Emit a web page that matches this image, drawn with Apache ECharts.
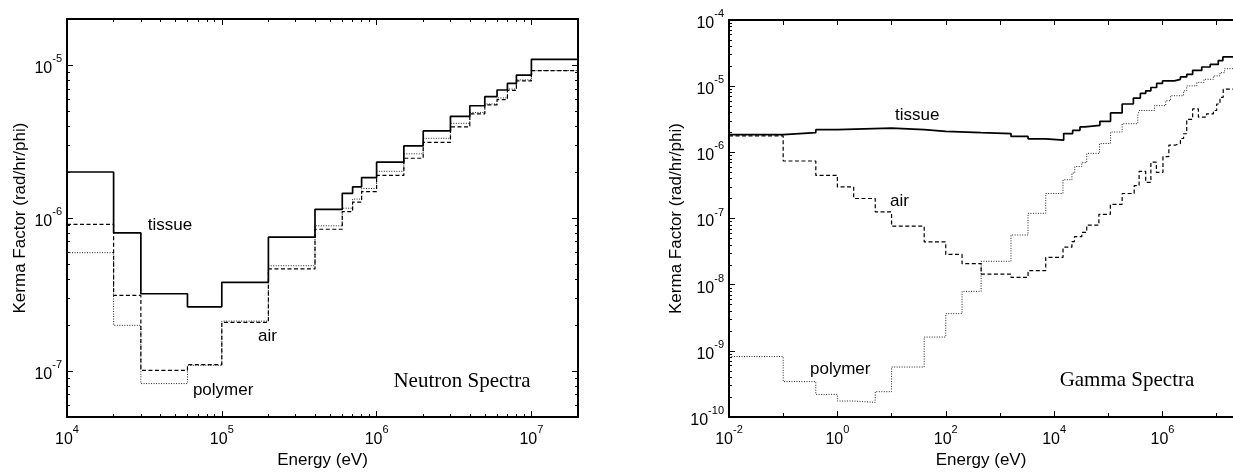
<!DOCTYPE html>
<html><head><meta charset="utf-8">
<script src="https://cdn.jsdelivr.net/npm/echarts@6/dist/echarts.min.js"></script>
<style>html,body{margin:0;padding:0;background:#fff}#c{width:1233px;height:474px}</style>
</head><body><div id="c"></div>
<script>
// ---------- DATA (energy in eV, kerma in rad/hr/phi) ----------
// Neutron spectra: group edges and per-group values
const neutronEdges = [1e4, 2e4, 3e4, 6e4, 1e5, 2e5, 4e5, 6e5, 7e5, 8e5, 1e6, 1.5e6, 2e6, 3e6, 4e6, 5e6, 6e6, 7e6, 8e6, 1e7, 2e7];
const neutronTissue = [2.0e-6, 8.0e-7, 3.2e-7, 2.63e-7, 3.8e-7, 7.5e-7, 1.14e-6, 1.45e-6, 1.6e-6, 1.84e-6, 2.32e-6, 2.96e-6, 3.71e-6, 4.62e-6, 5.42e-6, 6.22e-6, 6.87e-6, 7.58e-6, 8.6e-6, 1.09e-5];
const neutronAir = [9.1e-7, 3.12e-7, 1.01e-7, 1.1e-7, 2.08e-7, 4.65e-7, 8.45e-7, 1.1e-6, 1.27e-6, 1.49e-6, 1.9e-6, 2.46e-6, 3.12e-6, 3.94e-6, 4.8e-6, 5.5e-6, 5.94e-6, 6.83e-6, 7.88e-6, 9.2e-6];
const neutronPolymer = [5.94e-7, 1.99e-7, 8.28e-8, 1.09e-7, 2.12e-7, 4.88e-7, 8.9e-7, 1.16e-6, 1.33e-6, 1.56e-6, 2.02e-6, 2.63e-6, 3.32e-6, 4.16e-6, 4.9e-6, 5.57e-6, 6.1e-6, 6.97e-6, 8.0e-6, 9.2e-6];

// Gamma spectra
const gammaTissueEdges = [0.01, 0.1, 0.4, 1, 10, 40, 100, 450, 1600, 3300, 7000, 1.5e4, 2.2e4, 3e4, 3.7e4, 7e4, 1.1e5, 1.8e5, 2.9e5, 3.9e5, 4.9e5, 6.1e5, 7.8e5, 1e6, 1.66e6, 2.14e6, 2.8e6, 3.6e6, 5.3e6, 7.6e6, 1.07e7, 1.3e7, 2e7];
const gammaTissue = [1.86e-6, 1.99e-6, 2.2e-6, 2.33e-6, 2.2e-6, 2.08e-6, 1.99e-6, 1.92e-6, 1.74e-6, 1.6e-6, 1.53e-6, 1.92e-6, 2.15e-6, 2.42e-6, 2.56e-6, 2.94e-6, 3.95e-6, 5.38e-6, 6.61e-6, 7.78e-6, 8.51e-6, 9.55e-6, 1.1e-5, 1.2e-5, 1.27e-5, 1.38e-5, 1.51e-5, 1.73e-5, 1.95e-5, 2.13e-5, 2.44e-5, 2.77e-5];

const gammaAirEdges = [0.01, 0.1, 0.4, 1, 2, 5, 10, 40, 100, 200, 450, 1600, 3300, 7000, 1.46e4, 2.13e4, 2.37e4, 3.24e4, 4e4, 6.7e4, 1.09e5, 1.8e5, 3e5, 3.7e5, 4.9e5, 6.1e5, 7.7e5, 1.02e6, 1.31e6, 1.74e6, 2.14e6, 2.45e6, 2.8e6, 3.6e6, 4.6e6, 6.5e6, 8.7e6, 1e7, 1.15e7, 1.32e7, 2e7];
const gammaAir = [1.77e-6, 7.41e-7, 4.49e-7, 3.01e-7, 2.01e-7, 1.26e-7, 7.67e-8, 4.43e-8, 2.87e-8, 2.08e-8, 1.45e-8, 1.29e-8, 1.63e-8, 2.59e-8, 3.69e-8, 4.49e-8, 5.33e-8, 6.18e-8, 7.94e-8, 1.16e-7, 1.64e-7, 2.39e-7, 3.14e-7, 5.15e-7, 3.53e-7, 7.1e-7, 4.98e-7, 8.63e-7, 1.29e-6, 1.36e-6, 1.62e-6, 1.91e-6, 3.16e-6, 4.54e-6, 3.4e-6, 3.82e-6, 4.29e-6, 5.38e-6, 6.78e-6, 9.02e-6];

const gammaPolymerEdges = [0.01, 0.1, 0.4, 1, 2, 5, 10, 40, 100, 200, 450, 1600, 3300, 7000, 1.46e4, 2.13e4, 2.4e4, 3.24e4, 4e4, 6.9e4, 1.1e5, 1.8e5, 3.5e5, 3.7e5, 7.1e5, 1.15e6, 1.41e6, 2.45e6, 2.8e6, 4.3e6, 5.8e6, 8.7e6, 1.15e7, 1.4e7, 2e7];
const gammaPolymer = [8.22e-10, 3.44e-10, 2.2e-10, 1.75e-10, 1.67e-10, 2.42e-10, 5.71e-10, 1.62e-9, 3.66e-9, 7.94e-9, 2.26e-8, 5.64e-8, 1.2e-7, 2.39e-7, 3.86e-7, 4.86e-7, 6.11e-7, 7.0e-7, 9.66e-7, 1.36e-6, 2.03e-6, 2.71e-6, 3.6e-6, 4.29e-6, 5.08e-6, 6.04e-6, 7.18e-6, 8.51e-6, 1.01e-5, 1.14e-5, 1.27e-5, 1.43e-5, 1.6e-5, 1.84e-5];

// Axis tick exponents
const neutronXLabelExp = [4, 5, 6, 7];
const neutronYLabelExp = [-7, -6, -5];
const gammaXLabelExp = [-2, 0, 2, 4, 6];
const gammaXTickExp = [-2, -1, 0, 1, 2, 3, 4, 5, 6, 7];
const gammaYLabelExp = [-10, -9, -8, -7, -6, -5, -4];

// Texts
const axisTitleX = 'Energy (eV)';
const axisTitleY = 'Kerma Factor (rad/hr/phi)';
const annotations = [
  {chart: 0, text: 'tissue', at: [4.62e4, 9.0e-7]},
  {chart: 0, text: 'air', at: [1.97e5, 1.68e-7]},
  {chart: 0, text: 'polymer', at: [1.02e5, 7.43e-8]},
  {chart: 0, text: 'Neutron Spectra', at: [3.56e6, 8.61e-8], serif: true},
  {chart: 1, text: 'tissue', at: [29.8, 3.6e-6]},
  {chart: 1, text: 'air', at: [14, 1.84e-7]},
  {chart: 1, text: 'polymer', at: [1.13, 5.33e-10]},
  {chart: 1, text: 'Gamma Spectra', at: [2.21e5, 3.56e-10], serif: true}
];

// ---------- helpers ----------
const SANS = 'Liberation Sans, Arial, sans-serif';
const SERIF = 'Liberation Serif, Times New Roman, serif';
function p10(n) { return Number('1e' + n); }
function kp(k, n) { return Number(k + 'e' + n); }
function minorVals(lo, hi, min, max) {
  const r = [];
  for (let n = lo; n <= hi; n++) for (let k = 2; k <= 9; k++) {
    const v = kp(k, n);
    if (v >= min * 0.999 && v <= max * 1.001) r.push(v);
  }
  return r;
}
function steps(edges, vals) {
  const d = vals.map((v, i) => [edges[i], v]);
  d.push([edges[edges.length - 1], vals[vals.length - 1]]);
  return d;
}
const supLabel = v => '{b|10}{s|' + Math.round(Math.log10(v)) + '}';
const labelRich = {
  b: {fontSize: 16, fontFamily: SANS, color: '#000', lineHeight: 23, verticalAlign: 'bottom'},
  s: {fontSize: 11, fontFamily: SANS, color: '#000', lineHeight: 11, verticalAlign: 'top'}
};
function mkAxis(grid, pos, min, max, tickVals, tickLen, labelVals, lineW, extra) {
  return Object.assign({
    type: 'log', logBase: 10, gridIndex: grid, position: pos, min: min, max: max,
    axisLine: {show: lineW > 0, onZero: false, lineStyle: {color: '#000', width: lineW}},
    axisTick: {show: true, inside: true, length: tickLen, customValues: tickVals, lineStyle: {color: '#000', width: 1}},
    axisLabel: labelVals ? {show: true, customValues: labelVals, formatter: supLabel, rich: labelRich, margin: (pos === 'bottom' ? 7 : 5)} : {show: false},
    splitLine: {show: false}, minorTick: {show: false}, minorSplitLine: {show: false},
    axisPointer: {show: false}
  }, extra || {});
}
const nameStyle = {fontSize: 17, fontFamily: SANS, color: '#000'};

const NXmin = 1e4, NXmax = 2e7, NYmin = 5e-8, NYmax = 2e-5;
const GXmin = 1e-2, GXmax = 2e7, GYmin = 1e-10, GYmax = 1e-4;

const nXMajor = neutronXLabelExp.map(p10);
const nXMinor = minorVals(4, 7, NXmin, NXmax);
const nYMajor = neutronYLabelExp.map(p10);
const nYMinor = minorVals(-8, -5, NYmin, NYmax);
const gXLab = gammaXLabelExp.map(p10);
const gXAll = gammaXTickExp.map(p10);
const gXOdd = gXAll.filter(v => gXLab.indexOf(v) < 0);
const gYMajor = gammaYLabelExp.map(p10);
const gYMinor = minorVals(-10, -5, GYmin, GYmax);

const xAxes = [
  mkAxis(0, 'bottom', NXmin, NXmax, nXMajor, 6, nXMajor, 2,
    {name: axisTitleX, nameLocation: 'middle', nameGap: 29, nameTextStyle: nameStyle}),
  mkAxis(0, 'bottom', NXmin, NXmax, nXMinor, 3, null, 0),
  mkAxis(0, 'top', NXmin, NXmax, nXMajor, 6, null, 2),
  mkAxis(0, 'top', NXmin, NXmax, nXMinor, 3, null, 0),
  mkAxis(1, 'bottom', GXmin, GXmax, gXLab, 6, gXLab, 2,
    {name: axisTitleX, nameLocation: 'middle', nameGap: 29, nameTextStyle: nameStyle}),
  mkAxis(1, 'bottom', GXmin, GXmax, gXOdd, 4, null, 0),
  mkAxis(1, 'top', GXmin, GXmax, gXAll, 5, null, 2)
];
const yAxes = [
  mkAxis(0, 'left', NYmin, NYmax, nYMajor, 6, nYMajor, 2,
    {name: axisTitleY, nameLocation: 'middle', nameGap: 38, nameTextStyle: nameStyle}),
  mkAxis(0, 'left', NYmin, NYmax, nYMinor, 3, null, 0),
  mkAxis(0, 'right', NYmin, NYmax, nYMajor, 6, null, 2),
  mkAxis(0, 'right', NYmin, NYmax, nYMinor, 3, null, 0),
  mkAxis(1, 'left', GYmin, GYmax, gYMajor, 6, gYMajor, 2,
    {name: axisTitleY, nameLocation: 'middle', nameGap: 44, nameTextStyle: nameStyle}),
  mkAxis(1, 'left', GYmin, GYmax, gYMinor, 3, null, 0)
];

function lineSeries(xi, yi, data, kind) {
  const ls = kind === 'solid' ? {color: '#000', width: 1.7, type: 'solid'}
    : kind === 'dash' ? {color: '#000', width: 1.2, type: [4, 2.5]}
    : {color: '#222', width: 1, type: [1, 1.5]};
  return {type: 'line', xAxisIndex: xi, yAxisIndex: yi, data: data, step: 'end',
    showSymbol: false, symbol: 'none', silent: true, lineStyle: ls, clip: true};
}

const chart = echarts.init(document.getElementById('c'), null, {renderer: 'canvas'});
chart.setOption({
  animation: false,
  backgroundColor: '#fff',
  grid: [
    {left: 67, right: 655, top: 19, bottom: 52, containLabel: false},
    {left: 729, right: -7, top: 20, bottom: 52, containLabel: false}
  ],
  xAxis: xAxes,
  yAxis: yAxes,
  series: [
    lineSeries(0, 0, steps(neutronEdges, neutronPolymer), 'dot'),
    lineSeries(0, 0, steps(neutronEdges, neutronAir), 'dash'),
    lineSeries(0, 0, steps(neutronEdges, neutronTissue), 'solid'),
    lineSeries(4, 4, steps(gammaPolymerEdges, gammaPolymer), 'dot'),
    lineSeries(4, 4, steps(gammaAirEdges, gammaAir), 'dash'),
    lineSeries(4, 4, steps(gammaTissueEdges, gammaTissue), 'solid')
  ]
});

const gfx = annotations.map(a => {
  const idx = a.chart === 0 ? 0 : 4;
  const p = chart.convertToPixel({xAxisIndex: idx, yAxisIndex: idx}, a.at);
  return {
    type: 'text', x: p[0], y: p[1], silent: true,
    style: {text: a.text, fill: '#000', fontSize: a.serif ? 21 : 17,
      fontFamily: a.serif ? SERIF : SANS, align: 'center', verticalAlign: 'middle'}
  };
});
chart.setOption({graphic: gfx});
</script>
</body></html>
